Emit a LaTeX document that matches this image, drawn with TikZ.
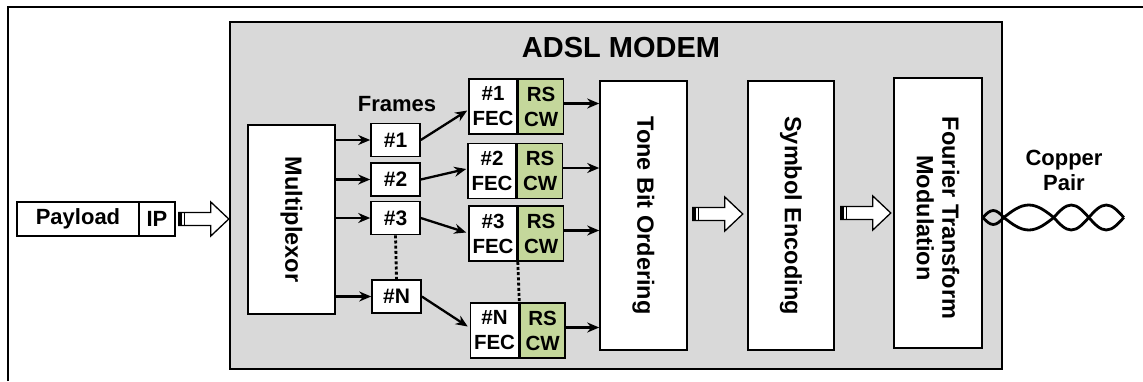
\documentclass[tikz,border=0pt]{standalone}
\usepackage{fontspec}
\setmainfont{Liberation Sans}
\usetikzlibrary{arrows.meta,calc}
\definecolor{modemgray}{RGB}{217,217,217}
\definecolor{rsgreen}{RGB}{196,215,155}
\tikzset{
  box/.style={draw=black, line width=1.6pt, fill=white, inner sep=0pt, align=center,
    font=\bfseries\fontsize{22}{26}\selectfont},
  framebox/.style={box, minimum width=49pt, minimum height=33pt, font=\bfseries\fontsize{21}{24}\selectfont},
  fecbox/.style={box, minimum width=48pt, minimum height=55pt, font=\bfseries\fontsize{20.5}{25}\selectfont},
  rsbox/.style={fecbox, fill=rsgreen, minimum width=45pt},
  bigbox/.style={box},
  rottext/.style={inner sep=0pt, align=center, rotate=-90, font=\bfseries\fontsize{23.5}{25.5}\selectfont},
  arr/.style={line width=2.3pt, -{Stealth[length=12pt,width=10pt]}},
  dots/.style={line width=2.8pt, dash pattern=on 3pt off 2.2pt},
  lbl/.style={inner sep=0pt, align=center, font=\bfseries\fontsize{22}{25}\selectfont},
  harr/.pic={
    \filldraw[fill=white, draw=black, line width=1.3pt]
      (0,-6.5) -- (32,-6.5) -- (32,-17) -- (50,0) -- (32,17) -- (32,6.5) -- (0,6.5) -- cycle;
    \fill[black] (0,-6.5) rectangle (3,6.5);
    \draw[line width=1.3pt] (5.5,-6.5) -- (5.5,6.5);
  }
}
\begin{document}
\begin{tikzpicture}[x=1pt,y=-1pt]
\useasboundingbox (0,0) rectangle (1143,381);
\draw[line width=2pt] (8,381) -- (8,7) -- (1143,7);

% modem box
\node[draw=black, line width=1.5pt, fill=modemgray, minimum width=772pt, minimum height=347pt, inner sep=0pt]
  (modem) at (616,195.5) {};
\node[lbl, font=\bfseries\fontsize{29}{32}\selectfont] (title) at (621,47.5) {ADSL MODEM};

% payload
\node[box, minimum width=122pt, minimum height=34pt] (payload) at (78,219) {Payload};
\node[box, minimum width=36pt, minimum height=34pt] (ip) at (157,219) {IP};
\pic at ($(ip.east)+(3,0)$) {harr};

% multiplexor
\node[bigbox, minimum width=87pt, minimum height=189pt] (mux) at (291.5,219.5) {};
\node[rottext] (muxt) at (mux.center) {Multiplexor};

% frames
\node[lbl] (frames) at (397,104) {Frames};
\node[framebox] (f1) at (395.5,140) {\#1};
\node[framebox] (f2) at (395.5,179.5) {\#2};
\node[framebox] (f3) at (395.5,218) {\#3};
\node[framebox] (fN) at (396.5,296.5) {\#N};

\foreach \f in {f1,f2,f3,fN}{
  \draw[arr] (mux.east |- \f) -- (\f.west);
}
\draw[dots] (f3.south) -- (fN.north);

% FEC blocks
\node[fecbox] (fec1) at (493,106.5) {\#1\\FEC};
\node[rsbox, anchor=west] (g1) at (fec1.east) {RS\\CW};
\node[fecbox] (fec2) at (492,171) {\#2\\FEC};
\node[rsbox, anchor=west] (g2) at (fec2.east) {RS\\CW};
\node[fecbox] (fec3) at (493,233.5) {\#3\\FEC};
\node[rsbox, anchor=west] (g3) at (fec3.east) {RS\\CW};
\node[fecbox] (fecN) at (494.5,330.5) {\#N\\FEC};
\node[rsbox, anchor=west] (gN) at (fecN.east) {RS\\CW};

\draw[dots] (fec3.south east) -- (fecN.north east);

\draw[arr] (f1.east) -- ($(fec1.west)+(-1,4)$);
\draw[arr] (f2.east) -- ($(fec2.west)+(-1,-2)$);
\draw[arr] (f3.east) -- ($(fec3.west)+(-2,-1)$);
\draw[arr] (fN.east) -- ($(fecN.west)+(-2,-4)$);

% processing blocks
\node[bigbox, minimum width=87pt, minimum height=269pt] (tbo) at (643.5,215.5) {};
\node[rottext] (tbot) at (tbo.center) {Tone Bit Ordering};
\node[bigbox, minimum width=86pt, minimum height=269pt] (se) at (791,215.5) {};
\node[rottext] (set) at (se.center) {Symbol Encoding};
\node[bigbox, minimum width=88pt, minimum height=270pt] (ftm) at (938,213) {};
\node[rottext] (ftmt) at ($(ftm.center)+(0,5)$) {Fourier Transform\\Modulation};

\foreach \g in {g1,g2,g3,gN}{
  \draw[arr] ($(\g.east)+(0,-3)$) -- ($(\g.east -| tbo.west)+(0,-3)$);
}

\pic at ($(tbo.east)+(5,-1.5)$) {harr};
\pic at ($(se.east)+(6,-2.5)$) {harr};

% copper pair
\node[lbl] (copper) at (1064,170) {Copper\\Pair};
\coordinate (cp) at ($(ftm.east)+(0,4.5)$);
\draw[line width=2.8pt, line join=round] (cp) sin ++(10.5,-7) cos ++(10.5,7)
  sin ++(25,12.5) cos ++(25,-12.5) sin ++(17.5,-12.5) cos ++(17.5,12.5)
  sin ++(17.5,12.5) cos ++(17.5,-12.5);
\draw[line width=2.8pt, line join=round] (cp) sin ++(10.5,7) cos ++(10.5,-7)
  sin ++(25,-12.5) cos ++(25,12.5) sin ++(17.5,12.5) cos ++(17.5,-12.5)
  sin ++(17.5,-12.5) cos ++(17.5,12.5);
\end{tikzpicture}
\end{document}
